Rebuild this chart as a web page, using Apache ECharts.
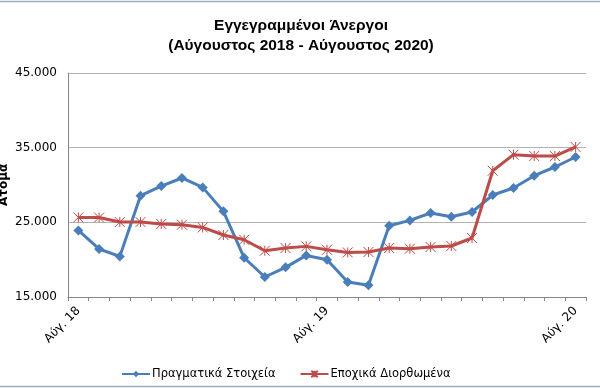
<!DOCTYPE html>
<html>
<head>
<meta charset="utf-8">
<script src="https://cdn.jsdelivr.net/npm/echarts@6/dist/echarts.min.js"></script>
<style>html,body{margin:0;padding:0;background:#fff}#c{width:600px;height:388px}</style>
</head>
<body>
<div id="c"></div>
<script>
var categories = ['Αύγ. 18','Σεπ. 18','Οκτ. 18','Νοε. 18','Δεκ. 18','Ιαν. 19','Φεβ. 19','Μαρ. 19','Απρ. 19','Μάι. 19','Ιουν. 19','Ιουλ. 19',
                  'Αύγ. 19','Σεπ. 19','Οκτ. 19','Νοε. 19','Δεκ. 19','Ιαν. 20','Φεβ. 20','Μαρ. 20','Απρ. 20','Μάι. 20','Ιουν. 20','Ιουλ. 20','Αύγ. 20'];
var actual = [23920,21430,20440,28570,29860,30940,29680,26470,20260,17680,18970,20570,
              20000,17010,16560,24550,25260,26250,25750,26380,28660,29600,31250,32410,33750];
var seasonal = [25660,25640,25040,25040,24780,24680,24320,23300,22670,21200,21560,21780,
                21330,20970,21030,21560,21470,21700,21830,22900,31910,34060,33880,33880,35090];
var shownLabels = ['Αύγ. 18','Αύγ. 19','Αύγ. 20'];
var yTicks = [15000,25000,35000,45000];
var seriesNames = ['Πραγματικά Στοιχεία','Εποχικά Διορθωμένα'];

var blue = '#4a7ebb', red = '#be4b48';
var font = 'DejaVu Sans';
function fmt(v){ return String(v).replace(/\B(?=(\d{3})+(?!\d))/g,'.'); }
var star = 'path://M0,0L10,10M10,0L0,10M5,0L5,10';

var chart = echarts.init(document.getElementById('c'), null, {renderer:'canvas'});
chart.setOption({
  animation:false,
  backgroundColor:'#fff',
  title:{
    text:'Εγγεγραμμένοι Άνεργοι\n(Αύγουστος 2018 - Αύγουστος 2020)',
    left:296, top:11, textAlign:'center',
    textStyle:{fontFamily:'Liberation Sans', fontWeight:'bold', fontSize:15.5, color:'#000', lineHeight:20}
  },
  legend:{
    bottom:3, left:116, itemGap:24, itemWidth:28, itemHeight:8,
    textStyle:{fontFamily:font, fontSize:11.5, color:'#000', padding:[0,0,0,-3]},
    data:seriesNames
  },
  grid:{left:68, right:14, top:73, bottom:91, containLabel:false, outerBoundsMode:'none'},
  xAxis:{
    type:'category', data:categories, boundaryGap:true,
    axisLine:{lineStyle:{color:'#868686', width:1}},
    axisTick:{show:true, interval:0, length:4, lineStyle:{color:'#868686'}},
    axisLabel:{
      interval:0, rotate:45, margin:12,
      fontFamily:font, fontSize:12, color:'#000',
      formatter:function(v){ return shownLabels.indexOf(v) >= 0 ? v : ''; }
    },
    splitLine:{show:false}
  },
  yAxis:{
    type:'value', min:yTicks[0], max:yTicks[yTicks.length-1], interval:10000,
    name:'Άτομα', nameLocation:'middle', nameGap:58, nameRotate:90, nameMoveOverlap:false,
    nameTextStyle:{fontFamily:font, fontWeight:'bold', fontSize:12, color:'#000'},
    axisLine:{show:true, lineStyle:{color:'#868686'}},
    axisTick:{show:false},
    axisLabel:{fontFamily:font, fontSize:12, color:'#000', margin:11, formatter:fmt},
    splitLine:{lineStyle:{color:'#b3b3b3', width:1}}
  },
  graphic:[
    {type:'line', shape:{x1:0,y1:1.5,x2:600,y2:1.5}, style:{stroke:'#9aaebd', lineWidth:1.5}, silent:true},
    {type:'line', shape:{x1:0,y1:386.5,x2:600,y2:386.5}, style:{stroke:'#9aaebd', lineWidth:1.5}, silent:true}
  ],
  series:[
    {
      name:seriesNames[0], type:'line', data:actual,
      symbol:'diamond', symbolSize:10,
      lineStyle:{color:blue, width:3},
      itemStyle:{color:blue}
    },
    {
      name:seriesNames[1], type:'line', data:seasonal,
      symbol:star, symbolSize:10,
      lineStyle:{color:red, width:3},
      itemStyle:{color:'rgba(0,0,0,0)', borderColor:red, borderWidth:1}
    }
  ]
});
</script>
</body>
</html>
